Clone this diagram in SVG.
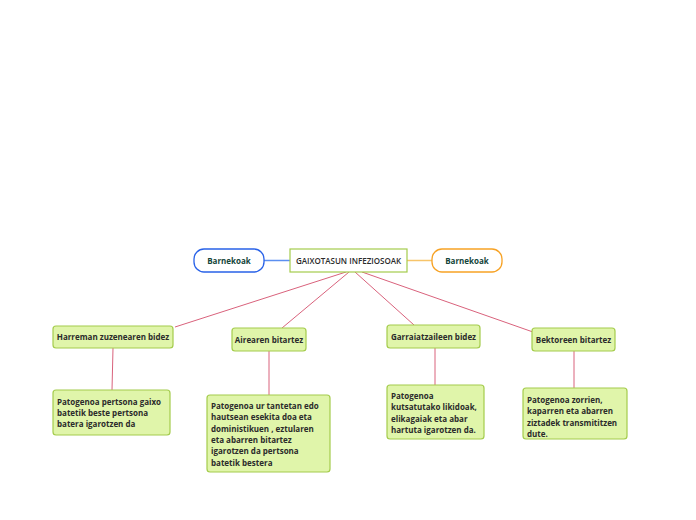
<svg xmlns="http://www.w3.org/2000/svg" width="696" height="520" viewBox="0 0 696 520">
<style>
text{font-family:"Open Sans","Noto Sans","Liberation Sans",sans-serif;font-size:8px;font-weight:700;fill:#2b2b2b}
.topic{fill:#e0f5aa;stroke:#a4cc4c;stroke-width:1.2}
.center{fill:#fff;stroke:#a4cc4c;stroke-width:1.2}
.conn{stroke:#d9627c;stroke-width:1;fill:none}
.mid{text-anchor:middle}
.bn{fill:#14453a}
</style>
<rect width="696" height="520" fill="#fff"/>
<g id="connectors">
<line class="conn" x1="346" y1="272" x2="175" y2="327"/>
<line class="conn" x1="349" y1="272" x2="282" y2="328"/>
<line class="conn" x1="355" y1="272" x2="414" y2="325"/>
<line class="conn" x1="362" y1="272" x2="533" y2="332"/>
<line class="conn" x1="113" y1="348" x2="112" y2="390"/>
<line class="conn" x1="269" y1="351" x2="269" y2="395"/>
<line class="conn" x1="435" y1="348" x2="435" y2="385"/>
<line class="conn" x1="574" y1="351" x2="574" y2="388"/>
<line x1="264" y1="260.5" x2="290" y2="260.5" stroke="#5b8ff0" stroke-width="1.5"/>
<line x1="407" y1="260.5" x2="432" y2="260.5" stroke="#f7c46a" stroke-width="1.5"/>
</g>
<g id="center">
<rect class="center" x="290" y="249" width="117" height="23"/>
<text class="mid" x="348.5" y="263.5" style="font-weight:600">GAIXOTASUN INFEZIOSOAK</text>
</g>
<g id="barnekoak-left">
<rect x="194" y="249" width="70" height="23" rx="10" fill="#fff" stroke="#2962e8" stroke-width="1.3"/>
<text class="mid bn" x="229" y="263.5">Barnekoak</text>
</g>
<g id="barnekoak-right">
<rect x="432" y="249" width="70" height="23" rx="10" fill="#fff" stroke="#f7a224" stroke-width="1.3"/>
<text class="mid bn" x="467" y="263.5">Barnekoak</text>
</g>
<g id="harreman">
<rect class="topic" x="53" y="326" width="120" height="22" rx="3"/>
<text class="mid" x="113" y="340">Harreman zuzenearen bidez</text>
</g>
<g id="airearen">
<rect class="topic" x="232" y="328" width="74" height="23" rx="3"/>
<text class="mid" x="269" y="342.5">Airearen bitartez</text>
</g>
<g id="garraiatzaileen">
<rect class="topic" x="387" y="325" width="93" height="23" rx="3"/>
<text class="mid" x="433.5" y="339.5">Garraiatzaileen bidez</text>
</g>
<g id="bektoreen">
<rect class="topic" x="532" y="328" width="83" height="23" rx="3"/>
<text class="mid" x="573.5" y="342.5">Bektoreen bitartez</text>
</g>
<g id="harreman-detail">
<rect class="topic" x="53" y="390" width="117" height="45" rx="3"/>
<text x="57" y="405">Patogenoa pertsona gaixo</text>
<text x="57" y="416">batetik beste pertsona</text>
<text x="57" y="427">batera igarotzen da</text>
</g>
<g id="airearen-detail">
<rect class="topic" x="207" y="395" width="123" height="77" rx="3"/>
<text x="211" y="409">Patogenoa ur tantetan edo</text>
<text x="211" y="420.3">hautsean esekita doa eta</text>
<text x="211" y="431.6">doministikuen , eztularen</text>
<text x="211" y="442.9">eta abarren bitartez</text>
<text x="211" y="454.2">igarotzen da pertsona</text>
<text x="211" y="465.5">batetik bestera</text>
</g>
<g id="garraiatzaileen-detail">
<rect class="topic" x="387" y="385" width="97" height="54" rx="3"/>
<text x="391" y="399">Patogenoa</text>
<text x="391" y="410.3">kutsatutako likidoak,</text>
<text x="391" y="421.6">elikagaiak eta abar</text>
<text x="391" y="432.9">hartuta igarotzen da.</text>
</g>
<g id="bektoreen-detail">
<rect class="topic" x="523" y="388" width="104" height="51" rx="3"/>
<text x="527" y="403">Patogenoa zorrien,</text>
<text x="527" y="414.3">kaparren eta abarren</text>
<text x="527" y="425.6">ziztadek transmititzen</text>
<text x="527" y="436.9">dute.</text>
</g>
</svg>
